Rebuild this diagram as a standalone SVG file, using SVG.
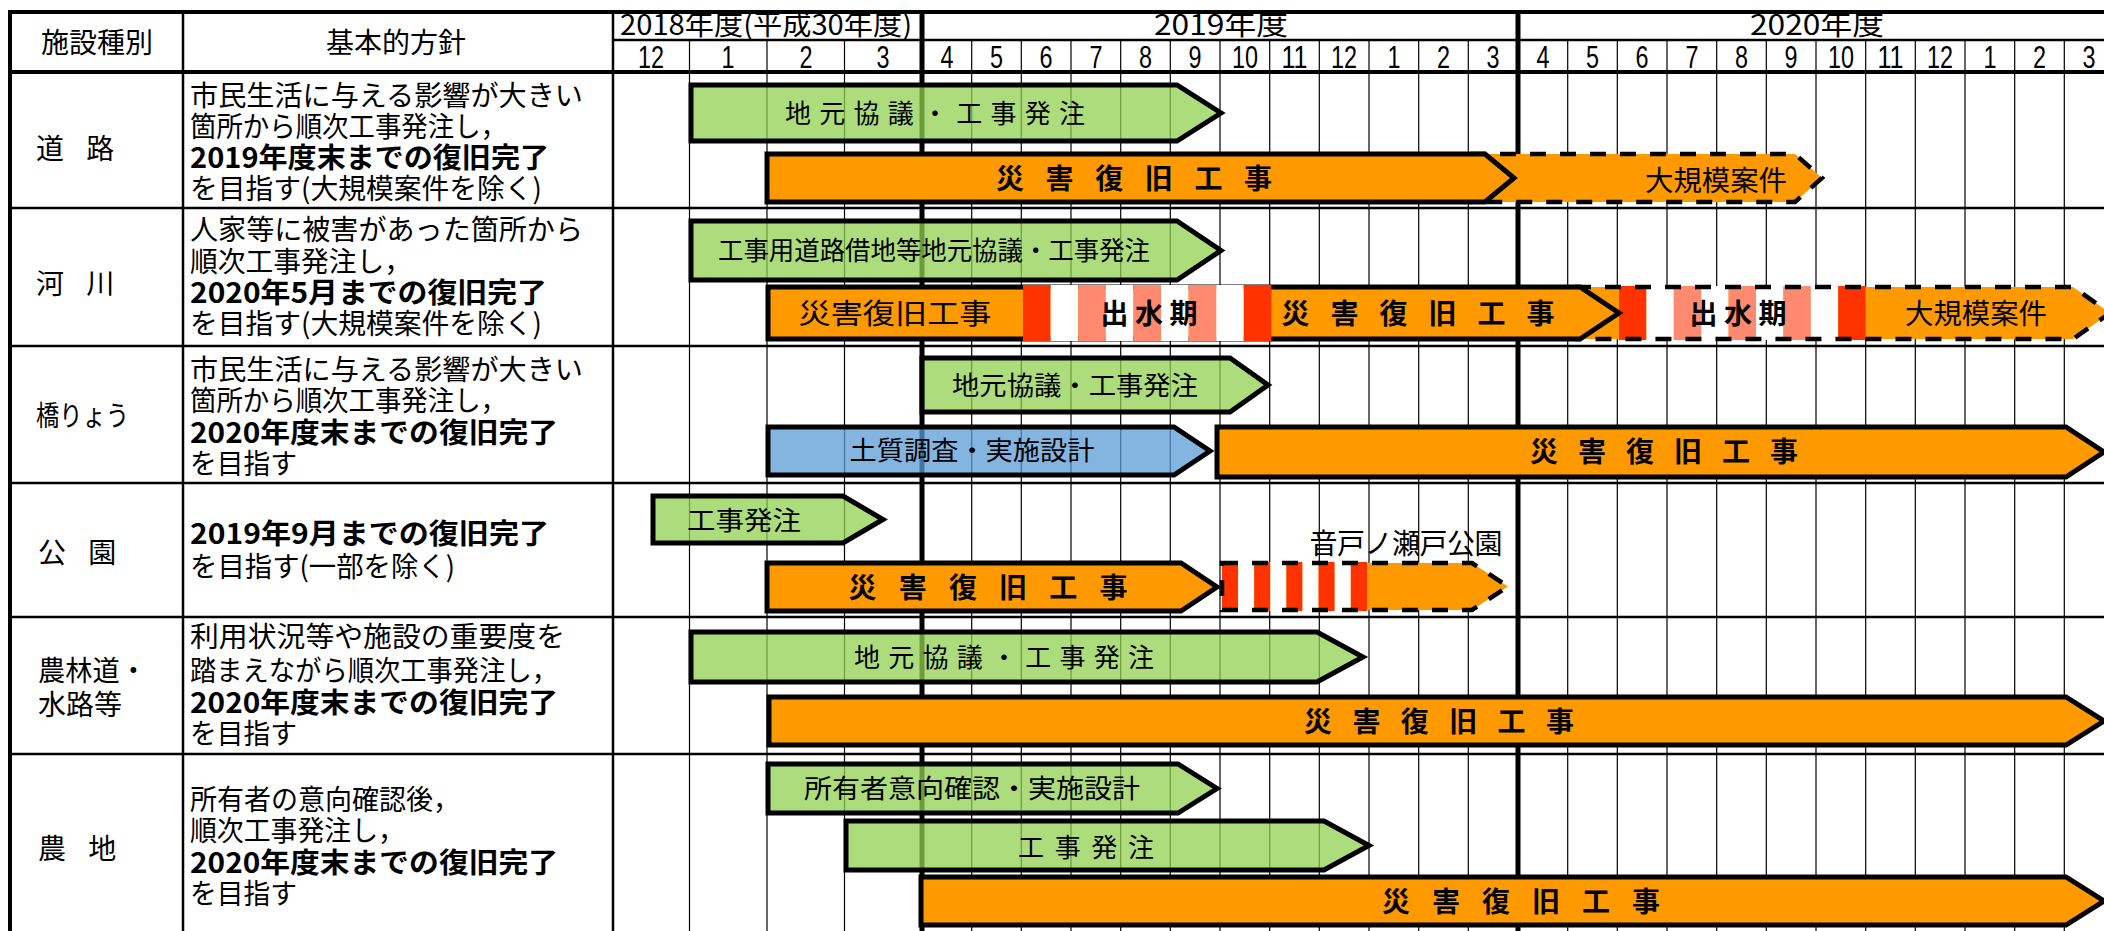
<svg xmlns="http://www.w3.org/2000/svg" width="2104" height="931" viewBox="0 0 2104 931">
<style>
.t{font-family:"Noto Sans CJK JP","Noto Sans",sans-serif;fill:#000;font-size:28px}
.b{font-weight:bold}
.s26{font-size:26px}
.c{text-anchor:middle}
.m{font-family:"Liberation Sans Narrow","Liberation Sans",sans-serif;font-size:31px;text-anchor:middle;fill:#000}
.gl{stroke:#000;stroke-width:1.2}
.hl{stroke:#000;stroke-width:2.5}
.tk{stroke:#000;stroke-width:5}
.g{fill:#92d050;fill-opacity:.75;stroke:#000;stroke-width:5}
.bl{fill:#5b9bd5;fill-opacity:.75;stroke:#000;stroke-width:5}
.o{fill:#ff9900;stroke:#000;stroke-width:5}
.df{fill:#ff9900}
.ds{fill:none;stroke:#000;stroke-width:4.5;stroke-dasharray:16 14}
.r{fill:#ff3300}
.sa{fill:#ff8a70}
.w{fill:#fff}
</style>
<rect width="2104" height="931" fill="#fff"/>

<g id="grid">
  <g class="gl">
    <line x1="689.5" y1="40" x2="689.5" y2="931"/>
    <line x1="767" y1="40" x2="767" y2="931"/>
    <line x1="844.5" y1="40" x2="844.5" y2="931"/>
    <line x1="971.7" y1="40" x2="971.7" y2="931"/>
    <line x1="1021.3" y1="40" x2="1021.3" y2="931"/>
    <line x1="1071" y1="40" x2="1071" y2="931"/>
    <line x1="1120.7" y1="40" x2="1120.7" y2="931"/>
    <line x1="1170.3" y1="40" x2="1170.3" y2="931"/>
    <line x1="1220" y1="40" x2="1220" y2="931"/>
    <line x1="1269.7" y1="40" x2="1269.7" y2="931"/>
    <line x1="1319.3" y1="40" x2="1319.3" y2="931"/>
    <line x1="1369" y1="40" x2="1369" y2="931"/>
    <line x1="1418.7" y1="40" x2="1418.7" y2="931"/>
    <line x1="1468.3" y1="40" x2="1468.3" y2="931"/>
    <line x1="1567.7" y1="40" x2="1567.7" y2="931"/>
    <line x1="1617.3" y1="40" x2="1617.3" y2="931"/>
    <line x1="1667" y1="40" x2="1667" y2="931"/>
    <line x1="1716.7" y1="40" x2="1716.7" y2="931"/>
    <line x1="1766.3" y1="40" x2="1766.3" y2="931"/>
    <line x1="1816" y1="40" x2="1816" y2="931"/>
    <line x1="1865.7" y1="40" x2="1865.7" y2="931"/>
    <line x1="1915.3" y1="40" x2="1915.3" y2="931"/>
    <line x1="1965" y1="40" x2="1965" y2="931"/>
    <line x1="2014.7" y1="40" x2="2014.7" y2="931"/>
    <line x1="2064.3" y1="40" x2="2064.3" y2="931"/>
  </g>
  <g class="hl">
    <line x1="612" y1="40" x2="2104" y2="40"/>
    <line x1="8" y1="208" x2="2104" y2="208"/>
    <line x1="8" y1="346" x2="2104" y2="346"/>
    <line x1="8" y1="483" x2="2104" y2="483"/>
    <line x1="8" y1="617" x2="2104" y2="617"/>
    <line x1="8" y1="754" x2="2104" y2="754"/>
    <line x1="183" y1="12" x2="183" y2="931"/>
    <line x1="613" y1="12" x2="613" y2="931"/>
  </g>
  <g class="tk">
    <line x1="8" y1="12" x2="2104" y2="12" stroke-width="4"/>
    <line x1="8" y1="72" x2="2104" y2="72" stroke-width="4"/>
    <line x1="10" y1="10" x2="10" y2="931" stroke-width="4"/>
    <line x1="922" y1="10" x2="922" y2="931"/>
    <line x1="1518" y1="10" x2="1518" y2="931"/>
  </g>
</g>

<g id="header">
  <text class="t c" x="97" y="53">施設種別</text>
  <text class="t c" x="396" y="53">基本的方針</text>
  <text class="t c" x="766" y="35" font-size="27" textLength="292" lengthAdjust="spacingAndGlyphs">2018年度(平成30年度)</text>
  <text class="t c" x="1221" y="35" font-size="28" textLength="134" lengthAdjust="spacingAndGlyphs">2019年度</text>
  <text class="t c" x="1817" y="35" font-size="28" textLength="134" lengthAdjust="spacingAndGlyphs">2020年度</text>
  <g class="m">
    <text x="651" y="68" textLength="26" lengthAdjust="spacingAndGlyphs">12</text>
    <text x="728" y="68" textLength="13" lengthAdjust="spacingAndGlyphs">1</text>
    <text x="806" y="68" textLength="13" lengthAdjust="spacingAndGlyphs">2</text>
    <text x="883" y="68" textLength="13" lengthAdjust="spacingAndGlyphs">3</text>
    <text x="947" y="68" textLength="13" lengthAdjust="spacingAndGlyphs">4</text>
    <text x="996.5" y="68" textLength="13" lengthAdjust="spacingAndGlyphs">5</text>
    <text x="1046" y="68" textLength="13" lengthAdjust="spacingAndGlyphs">6</text>
    <text x="1096" y="68" textLength="13" lengthAdjust="spacingAndGlyphs">7</text>
    <text x="1145.5" y="68" textLength="13" lengthAdjust="spacingAndGlyphs">8</text>
    <text x="1195" y="68" textLength="13" lengthAdjust="spacingAndGlyphs">9</text>
    <text x="1245" y="68" textLength="26" lengthAdjust="spacingAndGlyphs">10</text>
    <text x="1294.5" y="68" textLength="26" lengthAdjust="spacingAndGlyphs">11</text>
    <text x="1344" y="68" textLength="26" lengthAdjust="spacingAndGlyphs">12</text>
    <text x="1394" y="68" textLength="13" lengthAdjust="spacingAndGlyphs">1</text>
    <text x="1443.5" y="68" textLength="13" lengthAdjust="spacingAndGlyphs">2</text>
    <text x="1493" y="68" textLength="13" lengthAdjust="spacingAndGlyphs">3</text>
    <text x="1543" y="68" textLength="13" lengthAdjust="spacingAndGlyphs">4</text>
    <text x="1592.5" y="68" textLength="13" lengthAdjust="spacingAndGlyphs">5</text>
    <text x="1642" y="68" textLength="13" lengthAdjust="spacingAndGlyphs">6</text>
    <text x="1692" y="68" textLength="13" lengthAdjust="spacingAndGlyphs">7</text>
    <text x="1741.5" y="68" textLength="13" lengthAdjust="spacingAndGlyphs">8</text>
    <text x="1791" y="68" textLength="13" lengthAdjust="spacingAndGlyphs">9</text>
    <text x="1841" y="68" textLength="26" lengthAdjust="spacingAndGlyphs">10</text>
    <text x="1890.5" y="68" textLength="26" lengthAdjust="spacingAndGlyphs">11</text>
    <text x="1940" y="68" textLength="26" lengthAdjust="spacingAndGlyphs">12</text>
    <text x="1990" y="68" textLength="13" lengthAdjust="spacingAndGlyphs">1</text>
    <text x="2039.5" y="68" textLength="13" lengthAdjust="spacingAndGlyphs">2</text>
    <text x="2089" y="68" textLength="13" lengthAdjust="spacingAndGlyphs">3</text>
  </g>
</g>

<g id="row-road">
  <text class="t" x="36" y="159" letter-spacing="8" xml:space="preserve">道 路</text>
  <text class="t" x="190" y="106" textLength="393" lengthAdjust="spacingAndGlyphs">市民生活に与える影響が大きい</text>
  <text class="t" x="190" y="137" textLength="317" lengthAdjust="spacingAndGlyphs">箇所から順次工事発注し，</text>
  <text class="t b" x="190" y="168" textLength="359" lengthAdjust="spacingAndGlyphs">2019年度末までの復旧完了</text>
  <text class="t" x="190" y="199" textLength="352" lengthAdjust="spacingAndGlyphs">を目指す(大規模案件を除く)</text>
</g>
<g id="row-river">
  <text class="t" x="36" y="294" letter-spacing="8" xml:space="preserve">河 川</text>
  <text class="t" x="190" y="240" textLength="393" lengthAdjust="spacingAndGlyphs">人家等に被害があった箇所から</text>
  <text class="t" x="190" y="272" textLength="222" lengthAdjust="spacingAndGlyphs">順次工事発注し，</text>
  <text class="t b" x="190" y="303" textLength="357" lengthAdjust="spacingAndGlyphs">2020年5月までの復旧完了</text>
  <text class="t" x="190" y="334" textLength="352" lengthAdjust="spacingAndGlyphs">を目指す(大規模案件を除く)</text>
</g>
<g id="row-bridge">
  <text class="t" x="36" y="426" textLength="93" lengthAdjust="spacingAndGlyphs">橋りょう</text>
  <text class="t" x="190" y="380" textLength="393" lengthAdjust="spacingAndGlyphs">市民生活に与える影響が大きい</text>
  <text class="t" x="190" y="411" textLength="317" lengthAdjust="spacingAndGlyphs">箇所から順次工事発注し，</text>
  <text class="t b" x="190" y="443" textLength="368" lengthAdjust="spacingAndGlyphs">2020年度末までの復旧完了</text>
  <text class="t" x="190" y="474" textLength="107" lengthAdjust="spacingAndGlyphs">を目指す</text>
</g>
<g id="row-park">
  <text class="t" x="38" y="563" letter-spacing="8" xml:space="preserve">公 園</text>
  <text class="t b" x="190" y="544" textLength="359" lengthAdjust="spacingAndGlyphs">2019年9月までの復旧完了</text>
  <text class="t" x="190" y="577" textLength="265" lengthAdjust="spacingAndGlyphs">を目指す(一部を除く)</text>
</g>
<g id="row-farmroad">
  <text class="t" x="38" y="681" textLength="109" lengthAdjust="spacingAndGlyphs">農林道・</text>
  <text class="t" x="38" y="715">水路等</text>
  <text class="t" x="190" y="647" textLength="375" lengthAdjust="spacingAndGlyphs">利用状況等や施設の重要度を</text>
  <text class="t" x="190" y="681" textLength="368" lengthAdjust="spacingAndGlyphs">踏まえながら順次工事発注し，</text>
  <text class="t b" x="190" y="713" textLength="368" lengthAdjust="spacingAndGlyphs">2020年度末までの復旧完了</text>
  <text class="t" x="190" y="744" textLength="107" lengthAdjust="spacingAndGlyphs">を目指す</text>
</g>
<g id="row-farmland">
  <text class="t" x="38" y="859" letter-spacing="8" xml:space="preserve">農 地</text>
  <text class="t" x="190" y="810" textLength="270" lengthAdjust="spacingAndGlyphs">所有者の意向確認後，</text>
  <text class="t" x="190" y="841" textLength="215" lengthAdjust="spacingAndGlyphs">順次工事発注し，</text>
  <text class="t b" x="190" y="873" textLength="368" lengthAdjust="spacingAndGlyphs">2020年度末までの復旧完了</text>
  <text class="t" x="190" y="904" textLength="107" lengthAdjust="spacingAndGlyphs">を目指す</text>
</g>

<g id="connectors"></g>

<!-- 道路 -->
<g id="bar-road-large">
  <path class="df" d="M1470,154 H1795 L1822,178 L1795,202 H1470 Z"/>
  <path class="ds" d="M1470,154 H1795 L1822,178 L1795,202 H1470"/>
  <text class="t c" x="1716" y="191" textLength="142" lengthAdjust="spacingAndGlyphs">大規模案件</text>
</g>
<g id="bar-road-consult">
  <path class="g" d="M691,85 H1177 L1221,113 L1177,141 H691 Z"/>
  <text class="t s26 c" x="935" y="123" textLength="300">地元協議・工事発注</text>
</g>
<g id="bar-road-work">
  <path class="o" d="M767,154 H1485 L1514,178 L1485,202 H767 Z"/>
  <text class="t b c" x="1134" y="189" textLength="276">災害復旧工事</text>
</g>

<!-- 河川 -->
<g id="bar-river-consult">
  <path class="g" d="M691,221 H1177 L1221,250.5 L1177,280 H691 Z"/>
  <text class="t s26 c" x="934" y="260" textLength="432" lengthAdjust="spacingAndGlyphs">工事用道路借地等地元協議・工事発注</text>
</g>
<g id="bar-river-large">
  <path class="df" d="M1575,287 H2073 L2110,313 L2073,339 H1575 Z"/>
  <rect class="r" x="1619" y="286" width="27.4" height="54"/>
  <rect class="w" x="1646.4" y="286" width="27.4" height="54"/>
  <rect class="sa" x="1673.8" y="286" width="27.4" height="54"/>
  <rect class="w" x="1701.2" y="286" width="27.4" height="54"/>
  <rect class="sa" x="1728.6" y="286" width="27.4" height="54"/>
  <rect class="w" x="1756" y="286" width="27.4" height="54"/>
  <rect class="sa" x="1783.4" y="286" width="27.4" height="54"/>
  <rect class="w" x="1810.8" y="286" width="27.4" height="54"/>
  <rect class="r" x="1838.2" y="286" width="27.4" height="54"/>
  <path class="ds" d="M1575,287 H2073 L2110,313 L2073,339 H1575"/>
  <text class="t b c" x="1738" y="324" textLength="97">出水期</text>
  <text class="t c" x="1976" y="324" textLength="142" lengthAdjust="spacingAndGlyphs">大規模案件</text>
</g>
<g id="bar-river-work">
  <path class="o" d="M768,287 H1580 L1619,313 L1580,339 H768 Z"/>
  <rect class="r" x="1023" y="285" width="27.6" height="56"/>
  <rect class="w" x="1050.6" y="285" width="27.6" height="56"/>
  <rect class="sa" x="1078.2" y="285" width="27.6" height="56"/>
  <rect class="w" x="1105.8" y="285" width="27.6" height="56"/>
  <rect class="sa" x="1133.4" y="285" width="27.6" height="56"/>
  <rect class="w" x="1161" y="285" width="27.6" height="56"/>
  <rect class="sa" x="1188.6" y="285" width="27.6" height="56"/>
  <rect class="w" x="1216.2" y="285" width="27.6" height="56"/>
  <rect class="r" x="1243.8" y="285" width="27.6" height="56"/>
  <text class="t c" x="895" y="324" textLength="193" lengthAdjust="spacingAndGlyphs">災害復旧工事</text>
  <text class="t b c" x="1149" y="324" textLength="97">出水期</text>
  <text class="t b c" x="1418" y="324" textLength="273">災害復旧工事</text>
</g>

<!-- 橋りょう -->
<g id="bar-bridge-consult">
  <path class="g" d="M922,358 H1230 L1268,385 L1230,412 H922 Z"/>
  <text class="t s26 c" x="1075" y="395" textLength="246" lengthAdjust="spacingAndGlyphs">地元協議・工事発注</text>
</g>
<g id="bar-bridge-survey">
  <path class="bl" d="M768,427 H1174 L1210,451 L1174,475 H768 Z"/>
  <text class="t s26 c" x="972" y="460" textLength="245" lengthAdjust="spacingAndGlyphs">土質調査・実施設計</text>
</g>
<g id="bar-bridge-work">
  <path class="o" d="M1217,427 H2066 L2104,452 L2066,477 H1217 Z"/>
  <text class="t b c" x="1664" y="462" textLength="268">災害復旧工事</text>
</g>

<!-- 公園 -->
<g id="bar-park-order">
  <path class="g" d="M653,496 H843 L883,519.5 L843,543 H653 Z"/>
  <text class="t s26 c" x="744" y="530" textLength="114" lengthAdjust="spacingAndGlyphs">工事発注</text>
</g>
<g id="bar-park-ondo">
  <path class="df" d="M1222,563 H1472 L1508,586.5 L1472,610 H1222 Z"/>
  <rect class="r" x="1222" y="562" width="16.1" height="49"/>
  <rect class="w" x="1238.1" y="562" width="16.1" height="49"/>
  <rect class="r" x="1254.2" y="562" width="16.1" height="49"/>
  <rect class="w" x="1270.3" y="562" width="16.1" height="49"/>
  <rect class="r" x="1286.4" y="562" width="16.1" height="49"/>
  <rect class="w" x="1302.5" y="562" width="16.1" height="49"/>
  <rect class="r" x="1318.6" y="562" width="16.1" height="49"/>
  <rect class="w" x="1334.7" y="562" width="16.1" height="49"/>
  <rect class="r" x="1350.8" y="562" width="16.2" height="49"/>
  <path class="ds" d="M1222,563 H1472 L1508,586.5 L1472,610 H1222 Z"/>
  <text class="t c" x="1406" y="554" textLength="193">音戸ノ瀬戸公園</text>
</g>
<g id="bar-park-work">
  <path class="o" d="M767,563 H1181 L1217,587 L1181,611 H767 Z"/>
  <text class="t b c" x="988" y="598" textLength="279">災害復旧工事</text>
</g>

<!-- 農林道・水路等 -->
<g id="bar-farmroad-consult">
  <path class="g" d="M691,632 H1317 L1363,657 L1317,682 H691 Z"/>
  <text class="t s26 c" x="1004" y="667" textLength="300">地元協議・工事発注</text>
</g>
<g id="bar-farmroad-work">
  <path class="o" d="M769,697 H2066 L2104,721 L2066,745 H769 Z"/>
  <text class="t b c" x="1439" y="732" textLength="270">災害復旧工事</text>
</g>

<!-- 農地 -->
<g id="bar-farmland-design">
  <path class="g" d="M768,764 H1178 L1217,788.5 L1178,813 H768 Z"/>
  <text class="t s26 c" x="972" y="798" textLength="336" lengthAdjust="spacingAndGlyphs">所有者意向確認・実施設計</text>
</g>
<g id="bar-farmland-order">
  <path class="g" d="M846,821 H1324 L1369,845.5 L1324,870 H846 Z"/>
  <text class="t s26 c" x="1086" y="857" textLength="136">工事発注</text>
</g>
<g id="bar-farmland-work">
  <path class="o" d="M921,877 H2066 L2104,901 L2066,925 H921 Z"/>
  <text class="t b c" x="1521" y="912" textLength="278">災害復旧工事</text>
</g>
</svg>
